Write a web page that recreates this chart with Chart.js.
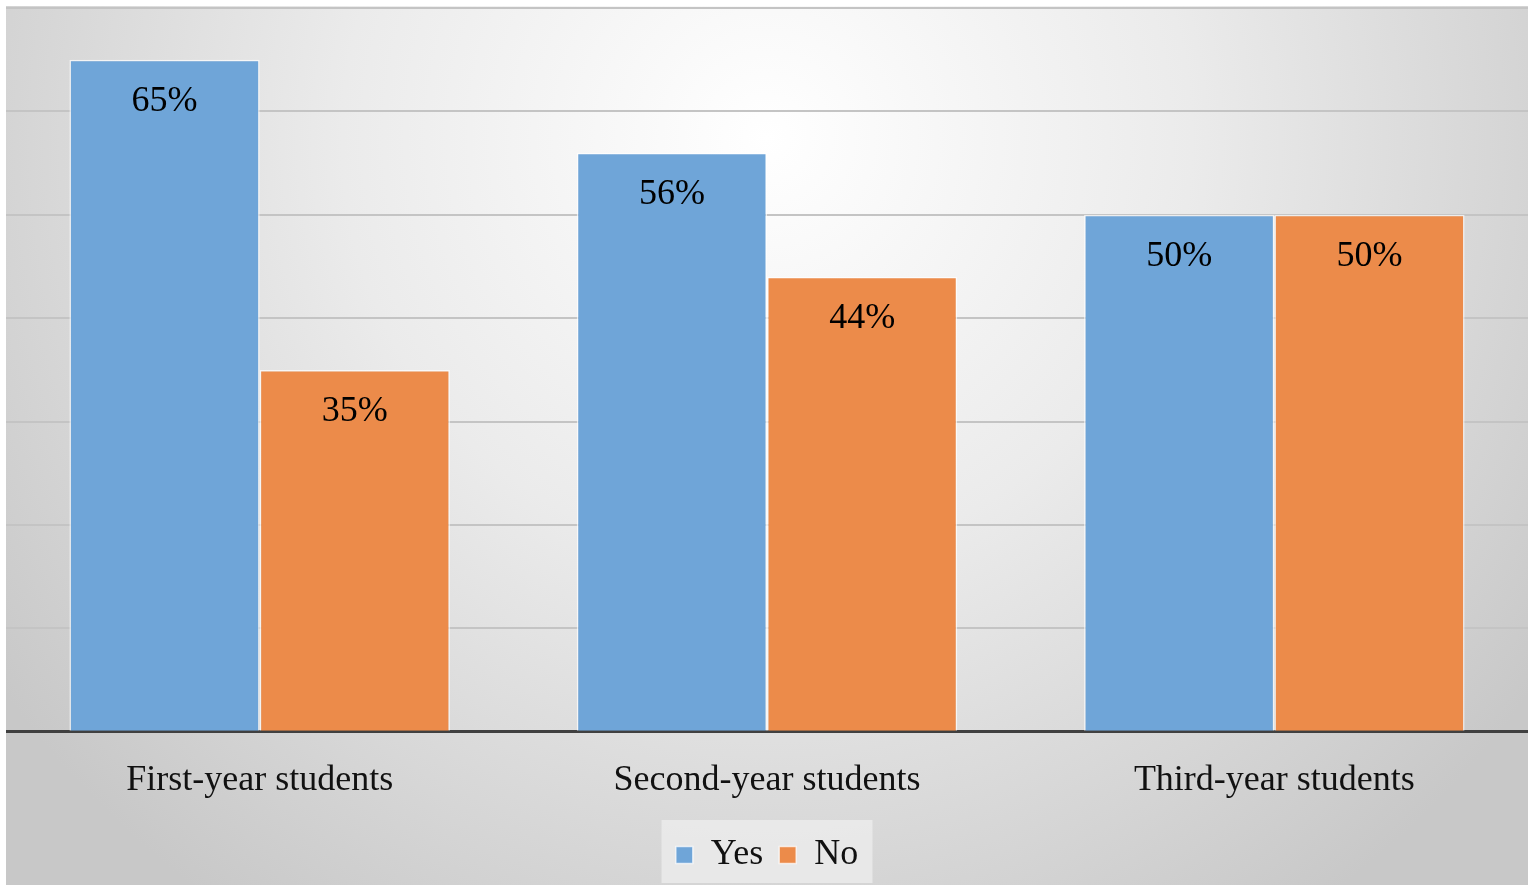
<!DOCTYPE html>
<html>
<head>
<meta charset="utf-8">
<script src="https://cdn.jsdelivr.net/npm/chart.js@4.4.0/dist/chart.umd.min.js"></script>
<style>
  html, body { margin: 0; padding: 0; background: #ffffff; }
  #wrap { position: absolute; left: 6px; top: 6px; width: 1522px; height: 879px; }
</style>
</head>
<body>
<div id="wrap"><canvas id="chart"></canvas></div>
<script>
const categories = ["First-year students", "Second-year students", "Third-year students"];
const yesValues = [65, 56, 50];
const noValues = [35, 44, 50];
const yTicks = [0, 10, 20, 30, 40, 50, 60, 70];

const serif = "'Liberation Serif', 'Times New Roman', serif";

// gradient background + legend box
const backdrop = {
    id: "backdrop",
    beforeDraw(chart) {
        const c = chart.ctx;
        const w = chart.width, h = chart.height;
        const g = c.createRadialGradient(w * 0.5, h * 0.15, 0, w * 0.5, h * 0.15, w * 0.62);
        g.addColorStop(0, "#ffffff");
        g.addColorStop(0.45, "#ebebeb");
        g.addColorStop(1, "#c8c8c8");
        c.save();
        c.fillStyle = g;
        c.fillRect(0, 0, w, h);
        const lg = chart.legend;
        if (lg) {
            c.fillStyle = "rgba(235,235,235,0.85)";
            c.fillRect(lg.left + (lg.width - 211) / 2, 814, 211, 63);
        }
        c.restore();
    }
};

const valueLabels = {
    id: "valueLabels",
    afterDatasetsDraw(chart) {
        const c = chart.ctx;
        c.save();
        c.font = "36px " + serif;
        c.fillStyle = "#000000";
        c.textAlign = "center";
        c.textBaseline = "middle";
        chart.data.datasets.forEach((ds, i) => {
            chart.getDatasetMeta(i).data.forEach((bar, j) => {
                c.fillText(ds.data[j] + "%", bar.x, bar.y + 42);
            });
        });
        c.restore();
    }
};

new Chart(document.getElementById("chart"), {
    type: "bar",
    data: {
        labels: categories,
        datasets: [
            {
                label: "Yes",
                data: yesValues,
                backgroundColor: "#6fa5d8",
                borderColor: "rgba(255,255,255,0.7)",
                borderWidth: 1.5
            },
            {
                label: "No",
                data: noValues,
                backgroundColor: "#ec8b4a",
                borderColor: "rgba(255,255,255,0.7)",
                borderWidth: 1.5
            }
        ]
    },
    options: {
        responsive: true,
        maintainAspectRatio: false,
        animation: false,
        layout: { padding: { top: 2, left: 0, right: 0, bottom: 2 } },
        datasets: { bar: { categoryPercentage: 0.75, barPercentage: 1.0 } },
        scales: {
            x: {
                grid: { display: false },
                border: { display: true, color: "#404040", width: 3 },
                ticks: { color: "#111111", font: { family: serif, size: 36 }, padding: 19 }
            },
            y: {
                min: 0,
                max: 70,
                afterBuildTicks(scale) {
                    scale.ticks = yTicks.map(v => ({ value: v }));
                },
                grid: { color: "#c4c4c4", lineWidth: 2, drawTicks: false },
                border: { display: false },
                ticks: { display: false }
            }
        },
        plugins: {
            tooltip: { enabled: false },
            legend: {
                position: "bottom",
                labels: {
                    boxWidth: 17,
                    boxHeight: 17,
                    padding: 16,
                    color: "#111111",
                    font: { family: serif, size: 36 }
                }
            }
        }
    },
    plugins: [backdrop, valueLabels]
});
</script>
</body>
</html>
